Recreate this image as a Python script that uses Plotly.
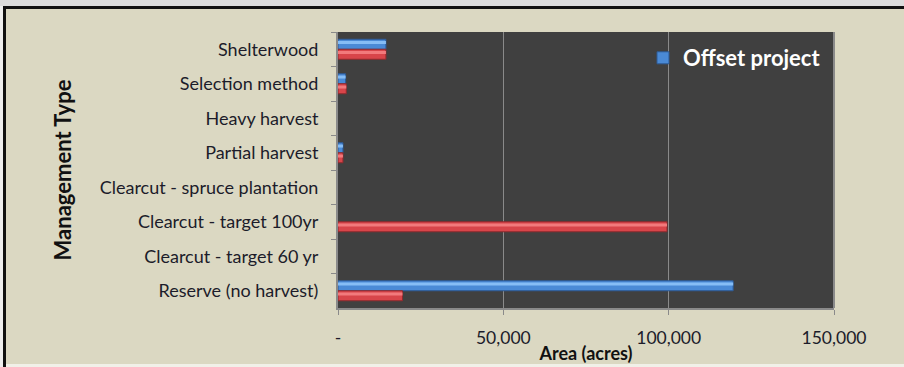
import plotly.graph_objects as go

# Management types, listed top to bottom
categories = [
    "Shelterwood",
    "Selection method",
    "Heavy harvest",
    "Partial harvest",
    "Clearcut - spruce plantation",
    "Clearcut - target 100yr",
    "Clearcut - target 60 yr",
    "Reserve (no harvest)",
]

# Area in acres per management type
offset_project = [14500, 2300, 0, 1500, 0, 0, 0, 119500]
baseline = [14500, 2500, 0, 1500, 0, 99500, 0, 19500]

x_tick_values = [0, 50000, 100000, 150000]
x_tick_labels = ["-", "50,000", "100,000", "150,000"]

W, H = 904, 367
ML, MR, MT, MB = 338, 70, 32, 59
PW, PH = W - ML - MR, H - MT - MB


def px_x(px):
    return (px - ML) / PW


def px_y(py):
    return (H - MB - py) / PH


BAR_W = 0.29
FONT = "Lato, 'Open Sans', sans-serif"

fig = go.Figure()

series = [
    ("Offset project", offset_project, -BAR_W, "#4a8ad6", "#2c5a96", "#86bdf5", True),
    ("Baseline", baseline, 0.0, "#d8454a", "#8f2a2e", "#f27a7c", False),
]

for name, vals, off, base, edge, light, show in series:
    # empty categories get no outline so nothing is drawn for them
    edge_w = [1 if v > 0 else 0 for v in vals]
    fig.add_trace(go.Bar(
        name=name, y=categories, x=vals, orientation="h",
        offset=off, width=BAR_W,
        marker=dict(color=base, line=dict(color=edge, width=edge_w)),
        showlegend=show,
    ))
    # bevel highlight strip on the upper half of each bar
    fig.add_trace(go.Bar(
        y=categories, x=vals, orientation="h",
        offset=off + BAR_W * 0.18, width=BAR_W * 0.3,
        marker=dict(color=light, line=dict(width=0)),
        showlegend=False, hoverinfo="skip",
    ))

fig.update_layout(
    width=W, height=H,
    margin=dict(l=ML, r=MR, t=MT, b=MB, pad=0, autoexpand=False),
    paper_bgcolor="#dbd8c2",
    plot_bgcolor="#404040",
    barmode="overlay",
    font=dict(family=FONT, size=18, color="#1c1c2a"),
    legend=dict(
        x=px_x(643), y=px_y(37), xanchor="left", yanchor="top",
        bgcolor="rgba(0,0,0,0)",
        font=dict(family=FONT, size=22, color="#ffffff", weight="bold"),
    ),
    xaxis=dict(
        range=[0, 150000],
        tickvals=x_tick_values, ticktext=x_tick_labels,
        tickfont=dict(size=17.5),
        showgrid=True, gridcolor="#8a8a8a", gridwidth=1,
        zeroline=False, automargin=False,
        showline=True, linecolor="#8a8a8a", linewidth=2,
        ticks="outside", ticklen=5, tickcolor="#8a8a8a",
        ticklabelstandoff=8,
        title=dict(text="Area (acres)", standoff=0,
                   font=dict(family=FONT, size=18, weight="bold", color="#111111")),
        mirror=False,
    ),
    yaxis=dict(
        type="category", autorange="reversed",
        showgrid=False, zeroline=False, automargin=False,
        showline=True, linecolor="#8a8a8a", linewidth=2,
        ticks="outside", ticklen=5, tickcolor="#8a8a8a",
        tickson="boundaries", ticklabelstandoff=14,
        title=dict(text="Management Type", standoff=22,
                   font=dict(family=FONT, size=22, weight="bold", color="#111111")),
    ),
    shapes=[
        # right edge of the plotting area
        dict(type="line", xref="paper", yref="paper", x0=1, x1=1, y0=0, y1=1,
             line=dict(color="#8a8a8a", width=2)),
        # outer frame pieces
        dict(type="rect", xref="paper", yref="paper", x0=px_x(-5), x1=px_x(W + 5),
             y0=px_y(6), y1=px_y(-5), fillcolor="#dcdcdc", line=dict(width=0)),
        dict(type="rect", xref="paper", yref="paper", x0=px_x(-5), x1=px_x(W + 5),
             y0=px_y(9), y1=px_y(6), fillcolor="#111111", line=dict(width=0)),
        dict(type="rect", xref="paper", yref="paper", x0=px_x(-5), x1=px_x(3),
             y0=px_y(H + 5), y1=px_y(6), fillcolor="#eeeeee", line=dict(width=0)),
        dict(type="rect", xref="paper", yref="paper", x0=px_x(3), x1=px_x(6),
             y0=px_y(H + 5), y1=px_y(6), fillcolor="#111111", line=dict(width=0)),
        dict(type="rect", xref="paper", yref="paper", x0=px_x(6), x1=px_x(W + 5),
             y0=px_y(H + 5), y1=px_y(364), fillcolor="#f1f0e8", line=dict(width=0)),
    ],
)

fig.write_html("out.html")
